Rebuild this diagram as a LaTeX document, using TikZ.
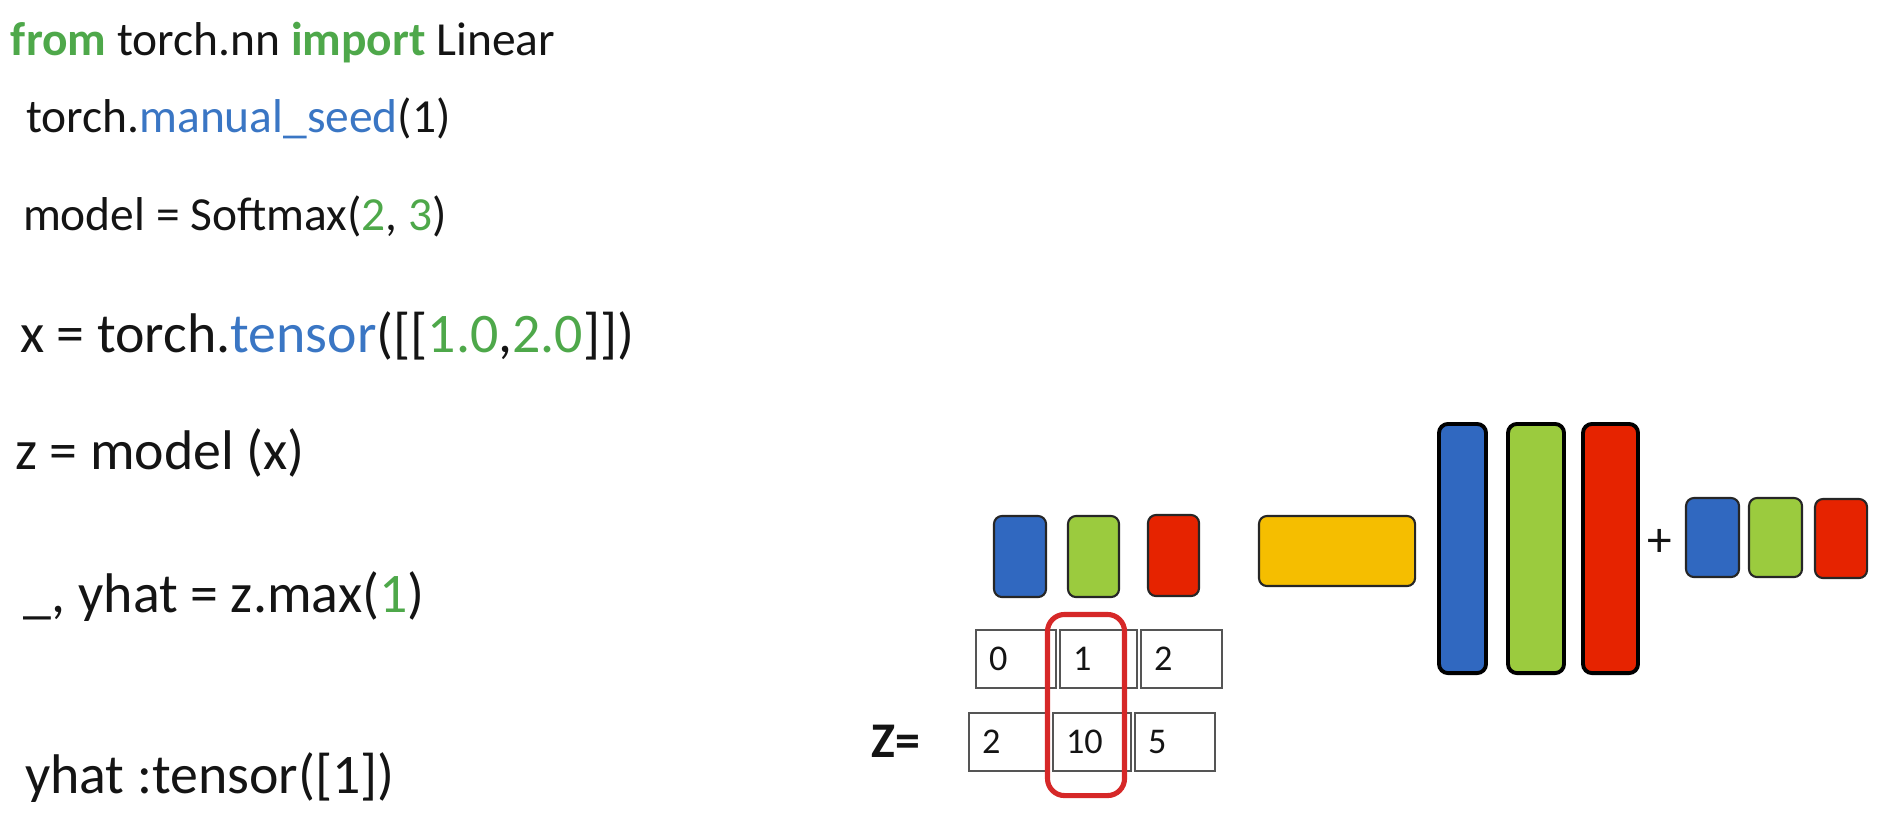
\documentclass[tikz,border=0pt]{standalone}
\usepackage{fontspec}
\setmainfont{Carlito}
\definecolor{cgreen}{RGB}{78,168,74}
\definecolor{cblue}{RGB}{58,118,196}
\definecolor{fblue}{RGB}{48,104,192}
\definecolor{fgreen}{RGB}{155,203,62}
\definecolor{fred}{RGB}{230,35,0}
\definecolor{fyellow}{RGB}{245,190,0}
\definecolor{hred}{RGB}{214,40,40}
\definecolor{cellgray}{RGB}{85,85,85}
\definecolor{txt}{RGB}{20,20,20}
\begin{document}
\begin{tikzpicture}[x=0.01cm,y=-0.01cm,
  codeS/.style={anchor=base west,inner sep=0,outer sep=0,text=txt,font=\fontsize{13.5pt}{16pt}\selectfont},
  codeL/.style={anchor=base west,inner sep=0,outer sep=0,text=txt,font=\fontsize{15.88pt}{19pt}\selectfont},
  sbox/.style={draw=black!85,line width=0.6pt,rounded corners=0.08cm,inner sep=0,outer sep=0},
  bbox/.style={draw=black,line width=1.1pt,rounded corners=0.09cm,inner sep=0,outer sep=0},
  cell/.style={draw=cellgray,line width=0.55pt,inner sep=0,inner xsep=0.13cm,outer sep=0,align=left,minimum height=0.58cm,font=\fontsize{10.3pt}{12pt}\selectfont,text=txt},
  hilite/.style={draw=hred,line width=1.45pt,rounded corners=0.17cm,inner sep=0,outer sep=0}]
\useasboundingbox (0,0) rectangle (1883,838);

% code lines
\node[codeS] (l1) at (11,55) {\textcolor{cgreen}{\textbf{from}} torch.nn \textcolor{cgreen}{\textbf{import}} Linear};
\node[codeS] (l2) at (26,132) {torch.\textcolor{cblue}{manual\_seed}(1)};
\node[codeS] (l3) at (23,230) {model = Softmax(\textcolor{cgreen}{2}, \textcolor{cgreen}{3})};
\node[codeL] (l4) at (20,352) {x = torch.\textcolor{cblue}{tensor}([[\textcolor{cgreen}{1.0},\textcolor{cgreen}{2.0}]])};
\node[codeL] (l5) at (15,469) {z = model (x)};
\node[codeL] (l6) at (24,612) {\_, yhat = z.max(\textcolor{cgreen}{1})};
\node[codeL] (l7) at (25,793) {yhat :tensor([1])};

% small left boxes
\node[sbox,fill=fblue,minimum width=0.52cm,minimum height=0.81cm] (sb1) at (1020,556.5) {};
\node[sbox,fill=fgreen,minimum width=0.51cm,minimum height=0.81cm] (sg1) at (1093.5,556.5) {};
\node[sbox,fill=fred,minimum width=0.51cm,minimum height=0.81cm] (sr1) at (1173.5,555.5) {};

% yellow
\node[sbox,fill=fyellow,minimum width=1.56cm,minimum height=0.70cm] (yel) at (1337,551) {};

% big bars
\node[bbox,fill=fblue,minimum width=0.47cm,minimum height=2.49cm] (bb) at (1462.5,548.5) {};
\node[bbox,fill=fgreen,minimum width=0.56cm,minimum height=2.49cm] (bg) at (1536,548.5) {};
\node[bbox,fill=fred,minimum width=0.55cm,minimum height=2.49cm] (br) at (1610.5,548.5) {};

% plus
\node[inner sep=0,text=txt,font=\fontsize{14pt}{16pt}\selectfont] (plus) at (1660,543) {+};

% right small boxes
\node[sbox,fill=fblue,minimum width=0.53cm,minimum height=0.79cm] (sb2) at (1712.5,537.5) {};
\node[sbox,fill=fgreen,minimum width=0.53cm,minimum height=0.79cm] (sg2) at (1775.5,537.5) {};
\node[sbox,fill=fred,minimum width=0.52cm,minimum height=0.79cm] (sr2) at (1841,538.5) {};

% table row 1
\node[cell,text width=0.54cm] (c11) at (1016,659) {0};
\node[cell,text width=0.51cm] (c12) at (1098.5,659) {1};
\node[cell,text width=0.55cm] (c13) at (1181.5,659) {2};
% table row 2
\node[cell,text width=0.54cm] (c21) at (1009,742) {2};
\node[cell,text width=0.52cm] (c22) at (1092,742) {10};
\node[cell,text width=0.54cm] (c23) at (1175,742) {5};

% Z=
\node[anchor=base west,inner sep=0,text=txt,font=\fontsize{14.2pt}{16pt}\selectfont\bfseries] (zlab) at (871,757) {Z=};

% highlight
\node[hilite,minimum width=0.77cm,minimum height=1.81cm] (hl) at (1086,705) {};
\end{tikzpicture}
\end{document}
